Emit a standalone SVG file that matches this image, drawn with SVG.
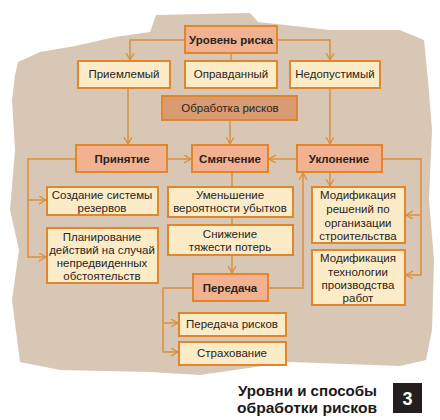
<svg xmlns="http://www.w3.org/2000/svg" width="440" height="420" viewBox="0 0 440 420">
<style>
.bx{stroke:#e0862c;stroke-width:2}
.pk{fill:#f2b190}
.cr{fill:#fcebc7}
.dk{fill:#d99c72}
.t{font-family:"Liberation Sans",Arial,sans-serif;font-size:11.5px;fill:#2a2420;text-anchor:middle}
.b{font-weight:bold}
.c{fill:none;stroke:#dc8f3c;stroke-width:1.5}
.cap{font-family:"Liberation Sans",Arial,sans-serif;font-weight:bold;font-size:14px;fill:#1e1a18}
</style>
<defs>
<marker id="ar" markerWidth="10" markerHeight="10" refX="7" refY="4" orient="auto" markerUnits="userSpaceOnUse">
<path d="M0,0 L7,4 L0,8" fill="none" stroke="#dc8f3c" stroke-width="1.3"/>
</marker>
</defs>
<rect width="440" height="420" fill="#ffffff"/>
<path d="M18,62 L40,52 L75,46 L115,37 L150,32 L156,15 L250,13 L258,22 L330,30 L400,30 L424,40 L428,80 L432,130 L429,200 L434,260 L432,330 L426,360 L400,366 L290,362 L200,375 L150,372 L60,370 L20,362 L12,300 L19,250 L10,210 L15,150 L12,100 L15,75 Z" fill="#d8c7b4"/>
<g id="connectors" class="c">
<path d="M185,40 H130 V60" marker-end="url(#ar)"/>
<path d="M277,40 H330 V60" marker-end="url(#ar)"/>
<path d="M231,53 V61"/>
<path d="M128,88 V144" marker-end="url(#ar)"/>
<path d="M230,120 V144" marker-end="url(#ar)"/>
<path d="M330,88 V144" marker-end="url(#ar)"/>
<path d="M167,159 H191" marker-end="url(#ar)"/>
<path d="M297,159 H269" marker-end="url(#ar)"/>
<path d="M76,159 H28 V257 H46" marker-end="url(#ar)"/>
<path d="M28,200 H46" marker-end="url(#ar)"/>
<path d="M232,172 V273" marker-end="url(#ar)"/>
<path d="M330,172 V186" marker-end="url(#ar)"/>
<path d="M382,159 H421 V275 H406" marker-end="url(#ar)"/>
<path d="M421,215 H406" marker-end="url(#ar)"/>
<path d="M268,288 H303 V173" marker-end="url(#ar)"/>
<path d="M193,288 H163 V352 H178" marker-end="url(#ar)"/>
<path d="M163,323 H178" marker-end="url(#ar)"/>
</g>
<g id="n-level"><rect class="bx pk" x="185" y="26" width="92" height="27"/><text class="t b" x="231" y="44">Уровень риска</text></g>
<g id="n-acceptable"><rect class="bx cr" x="78" y="61" width="92" height="27"/><text class="t" x="124" y="78">Приемлемый</text></g>
<g id="n-justified"><rect class="bx cr" x="185" y="61" width="92" height="27"/><text class="t" x="231" y="78">Оправданный</text></g>
<g id="n-unacceptable"><rect class="bx cr" x="290" y="61" width="90" height="27"/><text class="t" x="335" y="78">Недопустимый</text></g>
<g id="n-processing"><rect class="bx dk" x="162" y="96" width="135" height="24"/><text class="t" x="230" y="112">Обработка рисков</text></g>
<g id="n-accept"><rect class="bx pk" x="76" y="145" width="91" height="27"/><text class="t b" x="122" y="163">Принятие</text></g>
<g id="n-mitigate"><rect class="bx pk" x="192" y="145" width="76" height="27"/><text class="t b" x="230" y="163">Смягчение</text></g>
<g id="n-avoid"><rect class="bx pk" x="297" y="145" width="85" height="27"/><text class="t b" x="339" y="163">Уклонение</text></g>
<g id="n-reserves"><rect class="bx cr" x="47" y="187" width="111" height="28"/><text class="t" x="102" y="199">Создание системы</text><text class="t" x="102" y="212">резервов</text></g>
<g id="n-planning"><rect class="bx cr" x="47" y="228" width="111" height="55"/><text class="t" x="102" y="241">Планирование</text><text class="t" x="102" y="254">действий на случай</text><text class="t" x="102" y="267">непредвиденных</text><text class="t" x="102" y="280">обстоятельств</text></g>
<g id="n-probability"><rect class="bx cr" x="168" y="187" width="125" height="30"/><text class="t" x="230" y="199">Уменьшение</text><text class="t" x="230" y="212">вероятности убытков</text></g>
<g id="n-severity"><rect class="bx cr" x="168" y="225" width="125" height="30"/><text class="t" x="230" y="238">Снижение</text><text class="t" x="230" y="251">тяжести потерь</text></g>
<g id="n-transfer"><rect class="bx pk" x="193" y="274" width="75" height="27"/><text class="t b" x="230" y="292">Передача</text></g>
<g id="n-mod1"><rect class="bx cr" x="312" y="187" width="93" height="56"/><text class="t" x="358" y="199">Модификация</text><text class="t" x="358" y="213">решений по</text><text class="t" x="358" y="227">организации</text><text class="t" x="358" y="240">строительства</text></g>
<g id="n-mod2"><rect class="bx cr" x="312" y="250" width="93" height="55"/><text class="t" x="358" y="262">Модификация</text><text class="t" x="358" y="276">технологии</text><text class="t" x="358" y="289">производства</text><text class="t" x="358" y="302">работ</text></g>
<g id="n-risktransfer"><rect class="bx cr" x="179" y="313" width="107" height="23"/><text class="t" x="232" y="328">Передача рисков</text></g>
<g id="n-insurance"><rect class="bx cr" x="179" y="342" width="107" height="23"/><text class="t" x="232" y="357">Страхование</text></g>
<g id="caption">
<text class="cap" x="238" y="396" textLength="139" lengthAdjust="spacingAndGlyphs">Уровни и способы</text>
<text class="cap" x="237" y="413" textLength="140" lengthAdjust="spacingAndGlyphs">обработки рисков</text>
<rect x="393" y="383" width="29" height="30" fill="#231f1e"/>
<text x="407.5" y="405" font-family="'Liberation Sans',Arial,sans-serif" font-weight="bold" font-size="18" text-anchor="middle" fill="#ffffff">3</text>
</g>
</svg>
